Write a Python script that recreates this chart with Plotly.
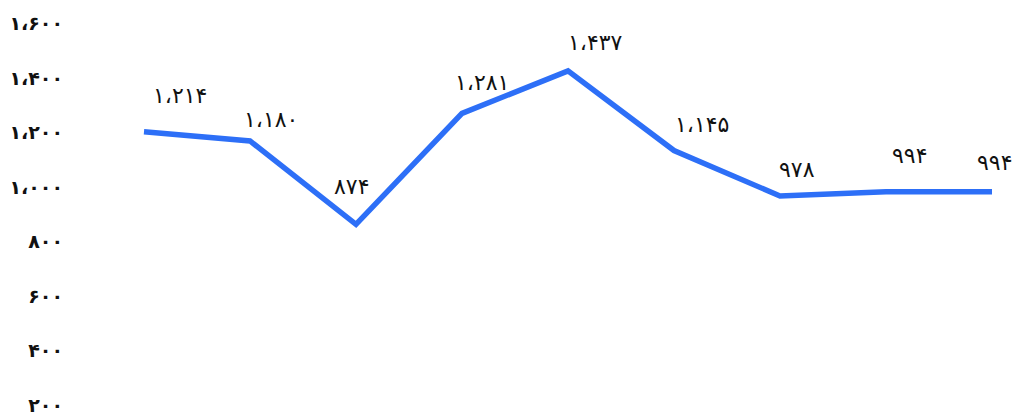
import plotly.graph_objects as go

# data
months = ["1", "2", "3", "4", "5", "6", "7", "8", "9"]
values = [1214, 1180, 874, 1281, 1437, 1145, 978, 994, 994]
tick_values = [200, 400, 600, 800, 1000, 1200, 1400, 1600]

# label nudges (pixels) so the value labels sit like the original
label_dx = [36, 21, -4, 20, 28, 28, 17, 23, 2]
label_dy = [36, 21, 38, 31, 28, 26, 27, 36, 29]

FA_DIGITS = str.maketrans("0123456789,", "۰۱۲۳۴۵۶۷۸۹،")


def fa(n):
    return f"{n:,}".translate(FA_DIGITS)


LINE_COLOR = "#2d6ff7"
FONT = "DejaVu Sans"

fig = go.Figure()
fig.add_trace(
    go.Scatter(
        x=list(range(len(months))),
        y=values,
        mode="lines",
        line=dict(color=LINE_COLOR, width=5.5),
        hoverinfo="skip",
        showlegend=False,
    )
)

for i, v in enumerate(values):
    fig.add_annotation(
        x=i,
        y=v,
        text=fa(v),
        showarrow=False,
        xshift=label_dx[i],
        yshift=label_dy[i],
        font=dict(family=FONT, size=22, color="#111111"),
    )

fig.update_layout(
    width=1015,
    height=413,
    margin=dict(l=70, r=0, t=0, b=0),
    paper_bgcolor="white",
    plot_bgcolor="white",
    xaxis=dict(
        range=[-0.698, 8.217],
        showgrid=False,
        zeroline=False,
        showticklabels=False,
        showline=False,
        automargin=False,
    ),
    yaxis=dict(
        range=[182, 1697],
        showgrid=False,
        zeroline=False,
        showline=False,
        automargin=False,
        tickvals=tick_values,
        ticktext=[f"<b>{fa(t)}</b>" for t in tick_values],
        tickfont=dict(family=FONT, size=19, color="#111111"),
        ticklabelstandoff=6,
        ticklabelshift=-3,
        ticklabeloverflow="allow",
    ),
)

# the page has a default body margin; drop it so the chart fills the window
fig.write_html(
    "out.html",
    config={"displayModeBar": False},
    post_script="document.body.style.margin='0';",
)
